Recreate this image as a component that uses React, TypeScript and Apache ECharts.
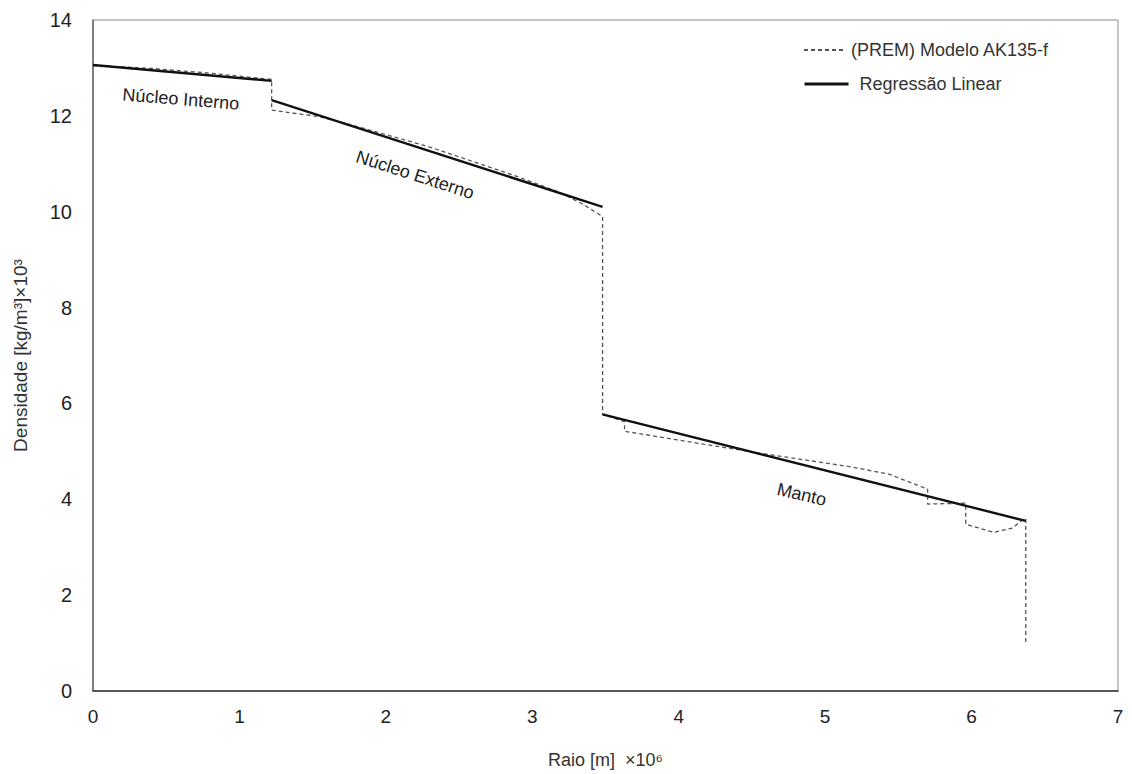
import React, { useEffect, useRef } from "react";
import * as echarts from "echarts";

// PREM / AK135-f density profile (x: radius ×10^6 m, y: density ×10^3 kg/m³)
const premModel: [number, number][] = [
  [0, 13.05], [0.4, 12.99], [0.8, 12.89], [1.22, 12.76],
  [1.22, 12.12], [1.55, 11.98], [1.8, 11.78], [2.3, 11.35], [2.9, 10.73],
  [3.19, 10.4], [3.35, 10.15], [3.48, 9.9],
  [3.48, 5.77], [3.63, 5.62], [3.63, 5.42], [4.17, 5.15], [4.56, 4.96],
  [5.19, 4.67], [5.44, 4.52], [5.7, 4.21], [5.7, 3.9], [5.96, 3.92],
  [5.96, 3.48], [6.15, 3.31], [6.28, 3.4], [6.35, 3.58], [6.37, 3.6],
  [6.37, 0.98],
];

// Linear regression segments
const innerCoreFit: [number, number][] = [[0, 13.06], [1.22, 12.73]];
const outerCoreFit: [number, number][] = [[1.22, 12.33], [3.48, 10.1]];
const mantleFit: [number, number][] = [[3.48, 5.77], [6.37, 3.55]];

const xTicks = { min: 0, max: 7, interval: 1 };
const yTicks = { min: 0, max: 14, interval: 2 };

const premName = "(PREM) Modelo AK135-f";
const fitName = "Regressão Linear";

const regionLabels = [
  { text: "Núcleo Interno", x: 0.6, y: 12.35, rot: -0.08 },
  { text: "Núcleo Externo", x: 2.2, y: 10.77, rot: -0.31 },
  { text: "Manto", x: 4.84, y: 4.1, rot: -0.23 },
];

const FONT = "'Liberation Sans', Arial, sans-serif";

export default function App() {
  const ref = useRef<HTMLDivElement>(null);

  useEffect(() => {
    if (!ref.current) return;
    const chart = echarts.init(ref.current, null, { renderer: "svg" });
    const fitStyle = { color: "#111", width: 2.4, type: "solid" as const };
    chart.setOption({
      animation: false,
      backgroundColor: "#fff",
      textStyle: { fontFamily: FONT },
      grid: {
        left: 93,
        right: 14,
        top: 20,
        bottom: 82,
        show: true,
        borderColor: "#8a8a8a",
        borderWidth: 1,
        containLabel: false,
      },
      legend: [
        {
          data: [premName],
          left: 798,
          top: 36,
          itemWidth: 42,
          itemHeight: 14,
          selectedMode: false,
          itemStyle: { opacity: 0 },
          textStyle: { fontSize: 18, color: "#333", fontFamily: FONT },
        },
        {
          data: [fitName],
          left: 798,
          top: 70,
          itemWidth: 44,
          itemHeight: 14,
          selectedMode: false,
          itemStyle: { opacity: 0 },
          lineStyle: { width: 3 },
          textStyle: {
            fontSize: 18,
            color: "#333",
            fontFamily: FONT,
            padding: [0, 0, 0, 6],
          },
        },
      ],
      xAxis: {
        type: "value",
        min: xTicks.min,
        max: xTicks.max,
        interval: xTicks.interval,
        name: "Raio [m]  ×10⁶",
        nameLocation: "middle",
        nameGap: 60,
        nameTextStyle: { fontSize: 18, color: "#333", fontFamily: FONT },
        axisLine: { show: true, lineStyle: { color: "#333", width: 1.5 } },
        axisTick: { show: false },
        splitLine: { show: false },
        axisLabel: { fontSize: 19, color: "#222", margin: 16, fontFamily: FONT },
      },
      yAxis: {
        type: "value",
        min: yTicks.min,
        max: yTicks.max,
        interval: yTicks.interval,
        name: "Densidade [kg/m³]×10³",
        nameLocation: "middle",
        nameGap: 63,
        nameTextStyle: { fontSize: 19, color: "#333", fontFamily: FONT },
        axisLine: { show: true, lineStyle: { color: "#666", width: 1.5 } },
        axisTick: { show: false },
        splitLine: { show: false },
        axisLabel: { fontSize: 20, color: "#222", margin: 21, fontFamily: FONT },
      },
      series: [
        {
          name: premName,
          type: "line",
          data: premModel,
          symbol: "none",
          showSymbol: false,
          lineStyle: { color: "#555", width: 1.3, type: [4, 3] },
          itemStyle: { color: "#555" },
          z: 2,
        },
        {
          name: fitName,
          type: "line",
          data: innerCoreFit,
          symbol: "none",
          lineStyle: fitStyle,
          itemStyle: { color: "#111" },
          z: 3,
        },
        {
          name: fitName,
          type: "line",
          data: outerCoreFit,
          symbol: "none",
          lineStyle: fitStyle,
          itemStyle: { color: "#111" },
          z: 3,
        },
        {
          name: fitName,
          type: "line",
          data: mantleFit,
          symbol: "none",
          lineStyle: fitStyle,
          itemStyle: { color: "#111" },
          z: 3,
        },
      ],
    });

    const graphics = regionLabels.map((l) => {
      const p = chart.convertToPixel({ gridIndex: 0 }, [l.x, l.y]) as number[];
      return {
        type: "text",
        x: p[0],
        y: p[1],
        rotation: l.rot,
        z: 10,
        style: {
          text: l.text,
          fontSize: 18,
          fill: "#222",
          fontFamily: FONT,
          textAlign: "center",
          textVerticalAlign: "middle",
        },
      };
    });
    chart.setOption({ graphic: graphics });

    return () => chart.dispose();
  }, []);

  return (
    <div
      ref={ref}
      style={{ position: "fixed", left: 0, top: 0, width: 1132, height: 774 }}
    />
  );
}
